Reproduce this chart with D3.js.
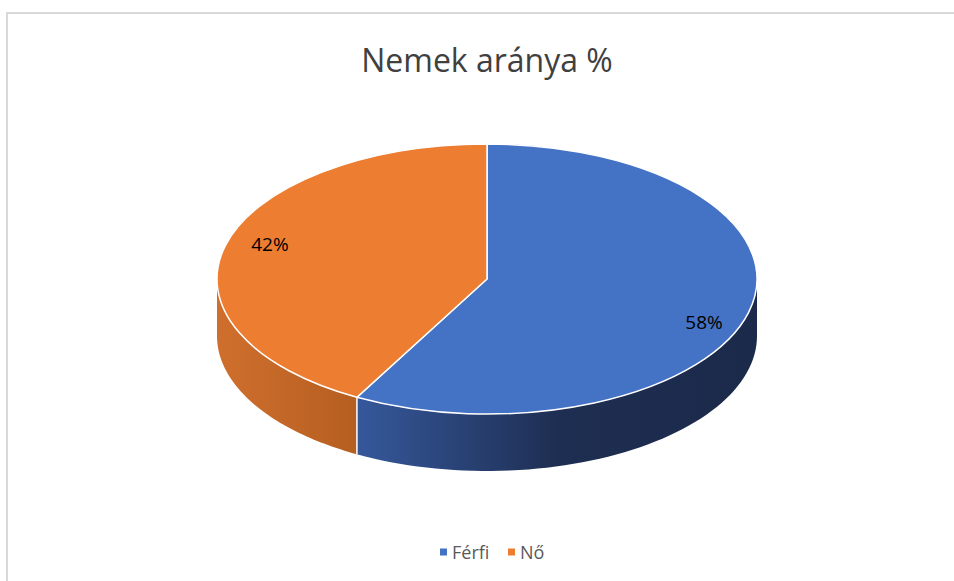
<!DOCTYPE html>
<html><head><meta charset="utf-8">
<script src="https://cdn.jsdelivr.net/npm/d3@7/dist/d3.min.js"></script>
<style>body{margin:0;background:#fff}svg{display:block}</style>
</head><body>
<script>
const categories = ["Férfi", "Nő"];
const values = [58, 42];
const labels = ["58%", "42%"];
const colors = ["#4472C4", "#ED7D31"];
const title = "Nemek aránya %";

const W = 954, H = 581;
const cx = 487, cy = 279, rx = 270, ry = 135, depth = 57;
const FONT = "Open Sans, Liberation Sans, Arial, sans-serif";

const svg = d3.select("body").append("svg").attr("width", W).attr("height", H);
svg.append("rect").attr("x", 7).attr("y", 13).attr("width", W).attr("height", H)
  .attr("fill", "#fff").attr("stroke", "#d9d9d9").attr("stroke-width", 2);

svg.append("text").attr("x", cx).attr("y", 72).attr("text-anchor", "middle")
  .attr("font-family", FONT).attr("font-size", 32)
  .attr("fill", "#404040").text(title);

const defs = svg.append("defs");
const gradB = defs.append("linearGradient").attr("id", "sideB").attr("gradientUnits", "userSpaceOnUse")
  .attr("x1", 360).attr("x2", 757).attr("y1", 0).attr("y2", 0);
gradB.append("stop").attr("offset", 0).attr("stop-color", "#35579a");
gradB.append("stop").attr("offset", 0.5).attr("stop-color", "#1e2e52");
gradB.append("stop").attr("offset", 1).attr("stop-color", "#1b2a4a");
const gradO = defs.append("linearGradient").attr("id", "sideO").attr("gradientUnits", "userSpaceOnUse")
  .attr("x1", 217).attr("x2", 362).attr("y1", 0).attr("y2", 0);
gradO.append("stop").attr("offset", 0).attr("stop-color", "#cf6f2d");
gradO.append("stop").attr("offset", 1).attr("stop-color", "#b45e21");
const sideFill = ["url(#sideB)", "url(#sideO)"];

const pie = d3.pie().sort(null).value(d => d)(values);

// point on ellipse, angle clockwise from top
const pt = (a, dy = 0) => [cx + rx * Math.sin(a), cy - ry * Math.cos(a) + dy];

// side walls
const g = svg.append("g");
pie.forEach((p, i) => {
  const a0 = Math.max(p.startAngle, Math.PI / 2), a1 = Math.min(p.endAngle, 3 * Math.PI / 2);
  if (a1 <= a0) return;
  const n = 60, top = [], bot = [];
  for (let k = 0; k <= n; k++) {
    const a = a0 + (a1 - a0) * k / n;
    top.push(pt(a)); bot.push(pt(a, depth));
  }
  const pts = top.concat(bot.reverse());
  g.append("path").attr("d", d3.line()(pts) + "Z").attr("fill", sideFill[i]);
});
// visible split edge on front
pie.forEach(p => {
  const a = p.endAngle;
  if (a > Math.PI / 2 && a < 3 * Math.PI / 2) {
    const t = pt(a), b = pt(a, depth);
    g.append("line").attr("x1", t[0]).attr("y1", t[1]).attr("x2", b[0]).attr("y2", b[1])
      .attr("stroke", "#fff").attr("stroke-width", 1.5);
  }
});

// top faces
const arc = d3.arc().innerRadius(0).outerRadius(rx);
const topG = svg.append("g").attr("transform", `translate(${cx},${cy}) scale(1,${ry / rx})`);
topG.selectAll("path").data(pie).join("path")
  .attr("d", arc).attr("fill", (d, i) => colors[i])
  .attr("stroke", "#fff").attr("stroke-width", 1.5).attr("vector-effect", "non-scaling-stroke");

// labels
const lab = d3.arc().innerRadius(rx * 0.83).outerRadius(rx * 0.83);
pie.forEach((p, i) => {
  const c = lab.centroid(p);
  svg.append("text").attr("x", cx + c[0]).attr("y", cy + c[1] * 0.7 + 4)
    .attr("text-anchor", "middle").attr("dominant-baseline", "central")
    .attr("font-family", FONT).attr("font-size", 19)
    .attr("fill", "#000").text(labels[i]);
});

// legend
const lg = svg.append("g").attr("transform", "translate(0,552)");
const lx = [440, 508];
categories.forEach((c, i) => {
  lg.append("rect").attr("x", lx[i]).attr("y", -3.5).attr("width", 7).attr("height", 7).attr("fill", colors[i]);
  lg.append("text").attr("x", lx[i] + 12).attr("y", 0).attr("dominant-baseline", "central")
    .attr("font-family", FONT).attr("font-size", 18)
    .attr("fill", "#595959").text(c);
});
</script>
</body></html>
